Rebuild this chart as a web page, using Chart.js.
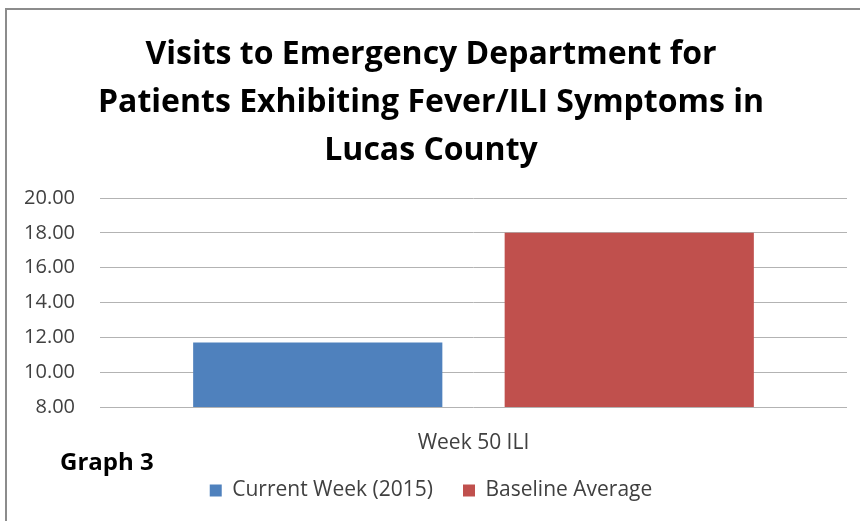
<!DOCTYPE html>
<html>
<head>
<meta charset="utf-8">
<script src="https://cdn.jsdelivr.net/npm/chart.js@4/dist/chart.umd.min.js"></script>
<style>
  html, body { margin: 0; padding: 0; background: #fff; overflow: hidden; }
  #frame {
    position: absolute; left: 5px; top: 8px;
    width: 855px; height: 513px;
    box-sizing: border-box;
    border-top: 2px solid #8c8c8c;
    border-left: 2px solid #8c8c8c;
  }
  #frame canvas { display: block; }
  #graphLabel {
    position: absolute; left: 60px; top: 444px;
    font-family: "Open Sans", sans-serif;
    font-weight: bold; font-size: 24px; color: #000;
  }
</style>
</head>
<body>
<div id="frame"><canvas id="ed" width="853" height="511"></canvas></div>
<div id="graphLabel">Graph 3</div>
<script>
const categories = ['Week 50 ILI'];
const seriesNames = ['Current Week (2015)', 'Baseline Average'];
const currentWeek = [11.7];
const baselineAverage = [18.0];
const titleLines = ['Visits to Emergency Department for', 'Patients Exhibiting Fever/ILI Symptoms in', 'Lucas County'];
const fontFamily = '"Open Sans", sans-serif';

const ctx = document.getElementById('ed').getContext('2d');
new Chart(ctx, {
    type: 'bar',
    data: {
        labels: categories,
        datasets: [{
            label: seriesNames[0],
            data: currentWeek,
            backgroundColor: '#4F81BD',
        }, {
            label: seriesNames[1],
            data: baselineAverage,
            backgroundColor: '#C0504D',
        }]
    },
    options: {
        responsive: false,
        animation: false,
        categoryPercentage: 0.834,
        barPercentage: 0.8,
        layout: { padding: { left: 8, right: 13, top: 0, bottom: 10 } },
        plugins: {
            title: {
                display: true,
                text: titleLines,
                font: { family: fontFamily, size: 32, weight: 'bold', lineHeight: 1.5 },
                color: '#000',
                padding: { top: 21, bottom: 23 },
            },
            legend: {
                position: 'bottom',
                labels: {
                    boxWidth: 12,
                    boxHeight: 12,
                    padding: 30,
                    color: '#404040',
                    font: { family: fontFamily, size: 21 },
                },
            },
            tooltip: { enabled: false },
        },
        scales: {
            x: {
                afterFit: (scale) => { scale.height = 43; },
                grid: { display: false },
                border: { display: false },
                ticks: { color: '#404040', padding: 15, font: { family: fontFamily, size: 21 } },
            },
            y: {
                min: 8,
                max: 20,
                afterFit: (scale) => { scale.width = 85; },
                ticks: {
                    stepSize: 2,
                    padding: 25,
                    color: '#404040',
                    font: { family: fontFamily, size: 20 },
                    callback: (value) => value.toFixed(2),
                },
                grid: { color: '#b3b3b3', drawTicks: false },
                border: { display: false },
            },
        },
    },
});
</script>
</body>
</html>
